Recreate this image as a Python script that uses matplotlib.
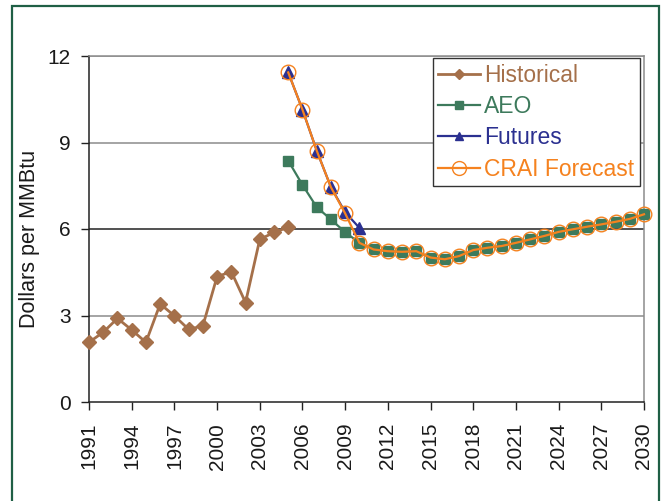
import matplotlib
matplotlib.use("Agg")
import matplotlib.pyplot as plt
from matplotlib.patches import Rectangle

plt.rcParams["font.family"] = ["Liberation Sans", "DejaVu Sans"]

# ---- data -----------------------------------------------------------------
hist_years = list(range(1991, 2006))
hist_vals = [2.07, 2.42, 2.90, 2.50, 2.07, 3.40, 2.99, 2.52, 2.64, 4.35,
             4.52, 3.45, 5.64, 5.88, 6.06]

aeo_years = list(range(2005, 2031))
aeo_vals = [8.37, 7.53, 6.76, 6.33, 5.89, 5.52, 5.29, 5.23, 5.21, 5.23,
            5.01, 4.95, 5.06, 5.27, 5.35, 5.41, 5.52, 5.64, 5.76, 5.90,
            5.99, 6.08, 6.16, 6.25, 6.35, 6.51]

fut_years = list(range(2005, 2011))
fut_vals = [11.43, 10.14, 8.72, 7.45, 6.58, 6.04]

crai_years = list(range(2005, 2031))
crai_vals = [11.43, 10.14, 8.72, 7.45, 6.54, 5.52, 5.29, 5.23, 5.21, 5.23,
             5.01, 4.95, 5.06, 5.27, 5.35, 5.41, 5.52, 5.64, 5.76, 5.90,
             5.99, 6.08, 6.16, 6.25, 6.35, 6.51]

xticks = list(range(1991, 2031, 3))
yticks = [0, 3, 6, 9, 12]

C_HIST = "#a5704a"
C_AEO = "#3d7a5c"
C_FUT = "#2b3090"
C_CRAI = "#f5821f"

fig = plt.figure(figsize=(6.62, 5.01), dpi=100)
ax = fig.add_axes([89 / 662, 99 / 501, 555 / 662, 346 / 501])

# grid (6 line darker, as in the original)
for y in yticks[1:]:
    ax.axhline(y, color="#222222" if y == 6 else "#8c8c8c", lw=1.1, zorder=0)

ax.plot(hist_years, hist_vals, color=C_HIST, lw=2.0, marker="D", ms=7,
        label="Historical", clip_on=False, zorder=3)
ax.plot(aeo_years, aeo_vals, color=C_AEO, lw=1.6, marker="s", ms=6.5,
        label="AEO", clip_on=False, zorder=3)
ax.plot(fut_years, fut_vals, color=C_FUT, lw=1.6, marker="^", ms=8,
        label="Futures", clip_on=False, zorder=4)
ax.plot(crai_years, crai_vals, color=C_CRAI, lw=1.6, marker="o", ms=10.5,
        mfc="none", mec=C_CRAI, mew=1.0, label="CRAI Forecast",
        clip_on=False, zorder=5)

ax.set_xlim(1991, 2030)
ax.set_ylim(0, 12)
ax.set_xticks(xticks)
ax.set_xticklabels([str(x) for x in xticks], rotation=90)
ax.set_yticks(yticks)
ax.tick_params(axis="both", direction="out", length=6, width=1, color="#222222",
               labelsize=15, labelcolor="#1a1a1a")
ax.tick_params(axis="y", pad=7)
ax.tick_params(axis="x", pad=9)

for s in ("left", "bottom"):
    ax.spines[s].set_color("#222222")
    ax.spines[s].set_linewidth(1.1)
for s in ("top", "right"):
    ax.spines[s].set_color("#8c8c8c")
    ax.spines[s].set_linewidth(1.1)

ax.set_ylabel("Dollars per MMBtu", fontsize=15.5, color="#1a1a1a")
ax.yaxis.set_label_coords(-0.088, 0.47)

leg = ax.legend(loc="upper right", bbox_to_anchor=(0.993, 0.994), borderaxespad=0,
                fontsize=16.5, frameon=True, fancybox=False, framealpha=1,
                edgecolor="#333333", handlelength=1.8, handletextpad=0.2,
                labelspacing=0.36, borderpad=0.25, markerscale=1)
leg.get_frame().set_linewidth(1.0)
for txt, col in zip(leg.get_texts(), [C_HIST, C_AEO, C_FUT, C_CRAI]):
    txt.set_color(col)
for h, ms in zip(leg.legend_handles, [5.5, 5.5, 6, 10]):
    h.set_markersize(ms)

# dark green frame around the whole exhibit
fig.patches.append(Rectangle((12 / 662, -0.02), 647 / 662, 1.02 - 6 / 501,
                             transform=fig.transFigure, fill=False,
                             edgecolor="#1f5f45", lw=1.6))

fig.savefig("out.png", dpi=100)
